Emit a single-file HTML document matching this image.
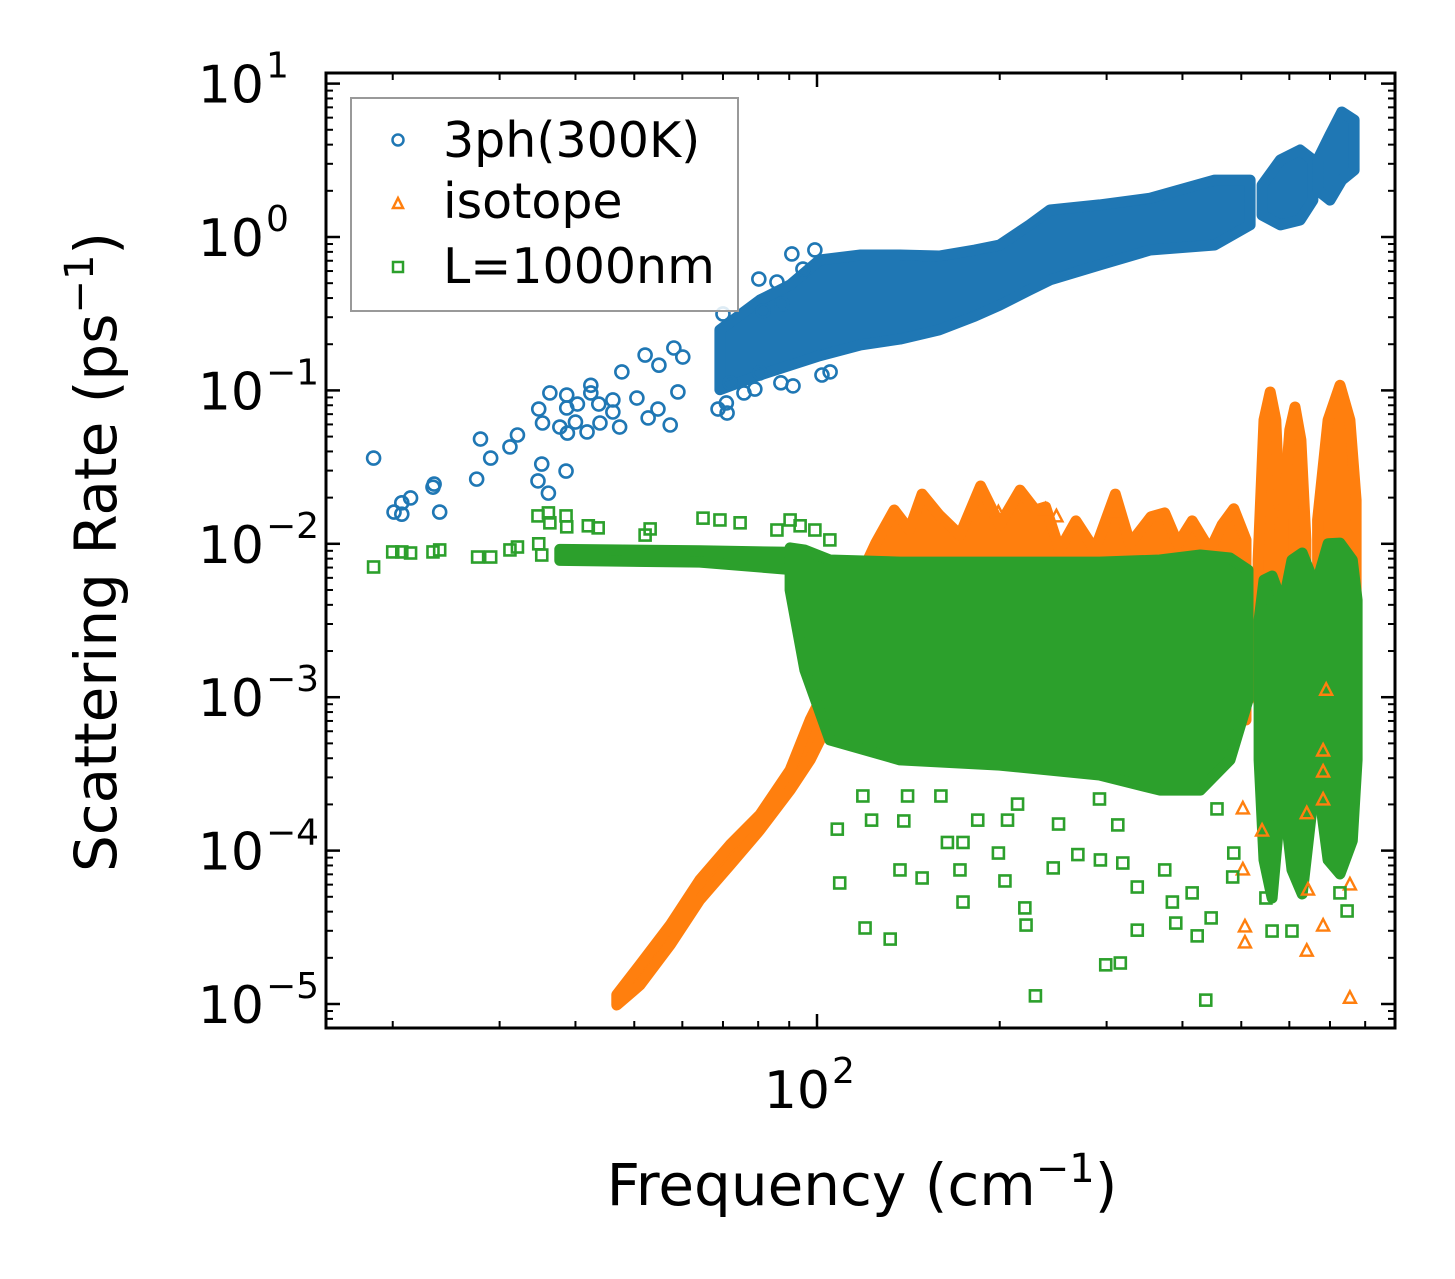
<!DOCTYPE html>
<html><head><meta charset="utf-8"><style>
html,body{margin:0;padding:0;background:#fff}
svg{display:block;font-family:"DejaVu Sans","Liberation Sans",sans-serif}
</style></head><body>
<svg id="chart" width="1455" height="1279" viewBox="0 0 1455 1279" xmlns="http://www.w3.org/2000/svg">
<rect width="1455" height="1279" fill="#fff"/>
<g id="bands"></g>
<g id="marks"></g>
<g id="axes"></g>
<g id="legend">
  <rect x="351" y="98" width="387" height="213" fill="#fff" fill-opacity="0.85" stroke="#999" stroke-width="2"/>
  <g><circle cx="398" cy="140" r="5.5" fill="none" stroke="#1f77b4" stroke-width="2.5"/><text x="443" y="157" font-size="49">3ph(300K)</text></g>
  <g><polygon points="398,198 403,208 393,208" fill="none" stroke="#ff7f0e" stroke-width="2.5"/><text x="443" y="218" font-size="49">isotope</text></g>
  <g><rect x="393" y="262" width="10" height="10" fill="none" stroke="#2ca02c" stroke-width="2.5"/><text x="443" y="283" font-size="49">L=1000nm</text></g>
</g>
<text x="862" y="1205" font-size="58" text-anchor="middle">Frequency (cm<tspan dy="-23" font-size="40">−1</tspan><tspan dy="23">)</tspan></text>
<text transform="translate(116,552) rotate(-90)" font-size="58" text-anchor="middle">Scattering Rate (ps<tspan dy="-23" font-size="40">−1</tspan><tspan dy="23">)</tspan></text>
</svg>
<script>
// ---- data (freq in cm^-1, rate in ps^-1) ----
const blueScatterFreq=[18.6,20.1,20.7,20.7,21.4,23.3,23.4,23.9,27.5,27.9,29.0,31.2,32.1,34.7,35.2,36.1,38.6,34.8,35.3,36.3,38.7,38.7,40.3,37.7,38.8,40.0,41.8,42.4,42.4,43.7,43.9,46.1,46.1,47.3,47.7,50.5,52.1,52.7,54.7,54.9,57.3,58.1,59.0,60.1,68.7,71.1,70.9,70.0,80.2,85.9,90.9,99.2,87.2,91.3,80.5,75.8,79.0,71.9,81.5,87.5,94.8,101.9,105.1];
const blueScatterRate=[0.0362,0.0161,0.0185,0.0156,0.0199,0.0234,0.0245,0.0161,0.0264,0.0482,0.0362,0.0428,0.0512,0.0257,0.0331,0.0214,0.0298,0.0756,0.0613,0.0962,0.0933,0.0768,0.0815,0.0577,0.0527,0.0622,0.0536,0.108,0.0962,0.0815,0.0613,0.0866,0.0723,0.0577,0.132,0.0892,0.170,0.0661,0.0756,0.146,0.0595,0.189,0.0977,0.165,0.0756,0.0712,0.0828,0.315,0.532,0.509,0.775,0.823,0.112,0.107,0.130,0.0962,0.102,0.112,0.330,0.366,0.618,0.126,0.132];
const blueBandFreq=[[69.2,80.5,90.3,101,118,137,159,182,200,224,242,292,354,452,517],[541,580,625,656],[668,700,732,767]];
const blueBandHi=[[0.248,0.388,0.487,0.708,0.763,0.763,0.752,0.823,0.887,1.20,1.50,1.62,1.79,2.35,2.35],[2.18,3.18,3.69,3.18],[3.18,4.62,6.53,5.79]];
const blueBandLo=[[0.101,0.126,0.146,0.168,0.198,0.216,0.248,0.305,0.360,0.451,0.525,0.657,0.823,0.887,1.20],[1.39,1.20,1.29,1.74],[2.02,1.74,2.35,2.73]];

const orangeBandFreq=[[46.8,51.1,57.3,64.1,71.9,80.5,90.3,97.4,105,113],
 [113,125,134,142,149,159,172,186,200,216,229,238,251,267,287,310,328,355,374,393,415,444,465,486,509],
 [533,545,558,570,581],[586,601,613,627,639],[668,695,727,755,773]];
const orangeBandHi=[[1.15e-5,1.80e-5,3.27e-5,6.43e-5,1.09e-4,1.71e-4,3.35e-4,7.10e-4,1.29e-3,2.36e-3],
 [0.0043,0.0101,0.0166,0.0123,0.0211,0.0154,0.0114,0.0238,0.0133,0.0224,0.0166,0.0174,0.0091,0.0141,0.0091,0.0211,0.0100,0.0150,0.0159,0.0100,0.0141,0.0091,0.0133,0.0169,0.0106],
 [0.00784,0.0641,0.0977,0.0641,0.0106],[0.0143,0.0552,0.0780,0.0475,0.0106],[0.0143,0.0641,0.108,0.0641,0.0193]];
const orangeBandLo=[[9.85e-6,1.33e-5,2.43e-5,4.77e-5,8.06e-5,1.36e-4,2.48e-4,3.90e-4,7.10e-4,7.10e-4],
 [7.1e-4,7.1e-4,7.1e-4,7.1e-4,7.1e-4,7.1e-4,7.1e-4,7.1e-4,7.1e-4,7.1e-4,7.1e-4,7.1e-4,7.1e-4,7.1e-4,7.1e-4,7.1e-4,7.1e-4,7.1e-4,7.1e-4,7.1e-4,7.1e-4,7.1e-4,7.1e-4,7.1e-4,7.1e-4],
 [9.59e-4,7.1e-4,7.1e-4,7.1e-4,9.59e-4],[9.59e-4,5.26e-4,5.26e-4,5.26e-4,9.59e-4],[9.59e-4,3.9e-4,3.9e-4,3.9e-4,9.59e-4]];
const orangeScatterFreq=[503,507,507,503,541,641,641,644,682,682,682,682,755,755,690,248,238,199,310];
const orangeScatterRate=[1.87e-4,3.18e-5,2.50e-5,7.48e-5,1.34e-4,1.74e-4,2.21e-5,5.53e-5,4.46e-4,3.25e-4,2.14e-4,3.22e-5,5.97e-5,1.09e-5,1.11e-3,0.0150,0.0166,0.0159,0.0161];

const greenBandFreq=[[37.7,64.1,90.3],[90.3,95.5,105,137,200,292,367,428,479,513],[535,545,562,581],[588,606,630,656],[668,695,727,762,776]];
const greenBandHi=[[0.0092,0.0090,0.0088],[0.0094,0.0091,0.00784,0.0076,0.0076,0.0076,0.00784,0.00845,0.00808,0.00675],[0.00319,0.00581,0.00617,0.0043],[0.0043,0.00784,0.00871,0.00581],[0.00581,0.01,0.0101,0.00784,0.0043]];
const greenBandLo=[[0.0078,0.0076,0.0068],[0.0050,0.0015,5.26e-4,3.9e-4,3.61e-4,3.11e-4,2.48e-4,2.48e-4,3.9e-4,9.59e-4],[3.9e-4,8.69e-5,4.91e-5,2.14e-4],[2.14e-4,7.48e-5,5.21e-5,2.14e-4],[2.88e-4,8.69e-5,7.04e-5,1.16e-4,3.9e-4]];
const greenScatterFreq=[108,109,120,132,137,149,164,174,172,174,199,204,220,221,229,245,269,293,299,316,319,337,337,390,385,423,446,437,484,549,562,606,727,747,415,374,250,206,184,160,139,123,119,141,214,292,313,456,486,
 18.6,20.0,20.7,21.4,23.3,23.9,27.6,29.0,31.2,32.1,34.8,35.2,34.7,36.1,36.3,38.6,38.7,42.0,43.6,52.1,53.1,64.9,69.2,74.7,85.9,90.3,93.8,99.2,105];
const greenScatterRate=[1.38e-4,6.15e-5,3.13e-5,2.65e-5,7.48e-5,6.63e-5,1.13e-4,1.13e-4,7.48e-5,4.62e-5,9.64e-5,6.34e-5,4.23e-5,3.27e-5,1.13e-5,7.71e-5,9.42e-5,8.69e-5,1.80e-5,1.85e-5,8.30e-5,5.79e-5,3.03e-5,3.37e-5,4.62e-5,2.78e-5,3.64e-5,1.06e-5,6.73e-5,4.91e-5,2.99e-5,2.99e-5,5.30e-5,4.04e-5,5.30e-5,7.48e-5,1.49e-4,1.58e-4,1.58e-4,2.27e-4,1.56e-4,1.58e-4,2.27e-4,2.27e-4,2.01e-4,2.17e-4,1.47e-4,1.87e-4,9.64e-5,
 0.00706,0.00885,0.00885,0.00871,0.00885,0.00912,0.0082,0.0082,0.00912,0.00953,0.01,0.00845,0.0152,0.0159,0.0137,0.0152,0.0129,0.0131,0.0127,0.0114,0.0125,0.0147,0.0143,0.0137,0.0123,0.0143,0.0131,0.0123,0.0106];

const yTickExps=[1,0,-1,-2,-3,-4,-5];
const xTickExps=[2];
const xMinorVals=[20,30,40,50,60,70,80,90,200,300,400,500,600,700,800];

// ---- axes functions ----
const X0=326,X1=1395,Y0=73,Y1=1028;
function xs(f){return 817+607*(Math.log10(f)-2);}
function ys(r){return 237-153.4*Math.log10(r);}
const NS="http://www.w3.org/2000/svg";
function mk(tag,attrs,parent){const e=document.createElementNS(NS,tag);for(const k in attrs)e.setAttribute(k,attrs[k]);parent.appendChild(e);return e;}
const bands=document.getElementById('bands'),marks=document.getElementById('marks'),axes=document.getElementById('axes');
const clip=mk('clipPath',{id:'pc'},document.getElementById('chart'));mk('rect',{x:X0,y:Y0,width:X1-X0,height:Y1-Y0},clip);
bands.setAttribute('clip-path','url(#pc)');marks.setAttribute('clip-path','url(#pc)');

function drawBands(F,H,L,color,name){
  for(let b=0;b<F.length;b++){
    let d='';
    for(let i=0;i<F[b].length;i++)d+=(i?'L':'M')+xs(F[b][i]).toFixed(1)+' '+ys(H[b][i]).toFixed(1);
    for(let i=F[b].length-1;i>=0;i--)d+='L'+xs(F[b][i]).toFixed(1)+' '+ys(L[b][i]).toFixed(1);
    const p=mk('path',{d:d+'Z',fill:color,stroke:color,'stroke-width':11,'stroke-linejoin':'round'},bands);
    
    
  }
}
function drawMarker(kind,f,r,color){
  const x=xs(f),y=ys(r);let e;
  if(kind==='o')e=mk('circle',{cx:x,cy:y,r:6.5,fill:'none',stroke:color,'stroke-width':2.6},marks);
  else if(kind==='^')e=mk('polygon',{points:`${x},${y-7} ${x+6},${y+4.5} ${x-6},${y+4.5}`,fill:'none',stroke:color,'stroke-width':2.4},marks);
  else e=mk('rect',{x:x-5.5,y:y-5.5,width:11,height:11,fill:'none',stroke:color,'stroke-width':2.6},marks);
  return e;
}
// blue
drawBands(blueBandFreq,blueBandHi,blueBandLo,'#1f77b4','3ph');
for(let i=0;i<blueScatterFreq.length;i++){const e=drawMarker('o',blueScatterFreq[i],blueScatterRate[i],'#1f77b4');

}
// orange
drawBands(orangeBandFreq,orangeBandHi,orangeBandLo,'#ff7f0e','isotope');
for(let i=0;i<orangeScatterFreq.length;i++){const e=drawMarker('^',orangeScatterFreq[i],orangeScatterRate[i],'#ff7f0e');

}
// green
drawBands(greenBandFreq,greenBandHi,greenBandLo,'#2ca02c','boundary');
for(let i=0;i<greenScatterFreq.length;i++){const e=drawMarker('s',greenScatterFreq[i],greenScatterRate[i],'#2ca02c');

}

// ---- ticks ----
function line(x1,y1,x2,y2,w){return mk('line',{x1,y1,x2,y2,stroke:'#000','stroke-width':w},axes);}
for(const e of yTickExps){
  const y=ys(Math.pow(10,e));
  line(X0,y,X0+14,y,2.5);line(X1,y,X1-14,y,2.5);
  const t=mk('text',{x:264,y:y+19,'font-size':52,'text-anchor':'end'},axes);
  t.textContent='10';
  
  
  const s=mk('text',{x:266,y:y-6,'font-size':36,'text-anchor':'start'},axes);
  s.textContent=e<0?'−'+(-e):String(e);
  
  
  for(let m=2;m<=9;m++){const ym=ys(m*Math.pow(10,e-1));if(ym<Y0||ym>Y1)continue;line(X0,ym,X0+7,ym,2);line(X1,ym,X1-7,ym,2);}
}
for(const e of xTickExps){
  const x=xs(Math.pow(10,e));
  line(x,Y1,x,Y1-14,2.5);line(x,Y0,x,Y0+14,2.5);
  const t=mk('text',{x:x+13,y:1108,'font-size':52,'text-anchor':'end'},axes);
  t.textContent='10';
  
  
  const s=mk('text',{x:x+15,y:1083,'font-size':36},axes);
  s.textContent=String(e);
  
  
}
for(const v of xMinorVals){const x=xs(v);line(x,Y1,x,Y1-7,2);line(x,Y0,x,Y0+7,2);}
const sp=mk('rect',{x:X0,y:Y0,width:X1-X0,height:Y1-Y0,fill:'none',stroke:'#000','stroke-width':3},axes);


</script>
</body></html>
